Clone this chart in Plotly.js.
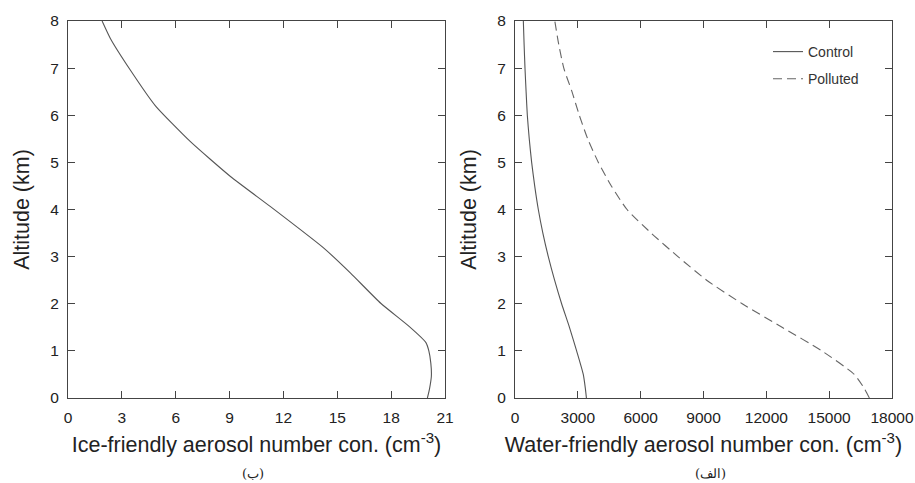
<!DOCTYPE html>
<html>
<head>
<meta charset="utf-8">
<script src="https://cdn.plot.ly/plotly-3.0.1.min.js"></script>
<style>html,body{margin:0;padding:0;background:#fff;}#chart{width:915px;height:483px;}</style>
</head>
<body>
<div id="chart"></div>
<script>
// Ice-friendly aerosol profile (left panel)
const iceAlt  = [0, 0.2, 0.46, 0.74, 1.0, 1.18, 1.52, 2.01, 2.65, 3.18, 4.06, 4.70, 5.44, 6.2, 6.96, 7.63, 8.0];
const iceConc = [20.02, 20.14, 20.24, 20.21, 20.1, 19.93, 19.0, 17.42, 15.74, 14.25, 11.28, 9.05, 6.82, 4.87, 3.47, 2.36, 1.9];

// Water-friendly aerosol profiles (right panel)
const waterAlt     = [0, 0.2, 0.5, 1.0, 1.5, 2.0, 2.5, 3.0, 3.5, 4.0, 4.5, 5.0, 5.5, 6.0, 6.5, 7.0, 7.5, 8.0];
const controlConc  = [3410, 3360, 3260, 2942, 2600, 2226, 1890, 1590, 1330, 1113, 940, 795, 680, 588, 530, 477, 435, 398];
const pollutedConc = [16920, 16680, 16200, 14650, 12750, 10850, 9150, 7780, 6500, 5350, 4600, 3980, 3470, 3070, 2720, 2330, 2090, 1900];

const seriesNames = ['Control', 'Polluted'];
const iceTicks = [0, 3, 6, 9, 12, 15, 18, 21];
const waterTicks = [0, 3000, 6000, 9000, 12000, 15000, 18000];
const altTicks = [0, 1, 2, 3, 4, 5, 6, 7, 8];
const xTitles = ['Ice-friendly aerosol number con. (cm<sup>-3</sup>)', 'Water-friendly aerosol number con. (cm<sup>-3</sup>)'];
const yTitle = 'Altitude (km)';
const panelLabels = ['(ب)', '(الف)'];

const font = 'Liberation Sans, Arial, Helvetica, sans-serif';

const traces = [
  {x: iceConc, y: iceAlt, xaxis: 'x', yaxis: 'y', mode: 'lines', showlegend: false,
   line: {color: '#555', width: 1.1, shape: 'spline', smoothing: 0.5}, hoverinfo: 'skip'},
  {x: controlConc, y: waterAlt, xaxis: 'x2', yaxis: 'y2', mode: 'lines', name: seriesNames[0], legendgroup: 'a',
   line: {color: '#555', width: 1.1, shape: 'spline', smoothing: 0.6}},
  {x: pollutedConc, y: waterAlt, xaxis: 'x2', yaxis: 'y2', mode: 'lines', name: seriesNames[1], legendgroup: 'b',
   line: {color: '#666', width: 1.1, dash: '9px,5px', shape: 'spline', smoothing: 0.6}}
];

function xax(domain, ticks, range, title) {
  return {
    domain: domain, range: range, tickvals: ticks, ticktext: ticks.map(String),
    ticks: 'inside', ticklen: 7, tickwidth: 1, tickcolor: '#444', mirror: 'ticks',
    showline: true, linecolor: '#444', linewidth: 1, showgrid: false, zeroline: false,
    tickfont: {family: font, size: 15.5, color: '#222'}, ticklabelstandoff: 5,
    title: {text: title, font: {family: font, size: 21.5, color: '#222'}, standoff: 12},
    automargin: false, fixedrange: true
  };
}
function yax(domain, anchor) {
  return {
    domain: domain, anchor: anchor, range: [0, 8], tickvals: altTicks,
    ticks: 'inside', ticklen: 7, tickwidth: 1, tickcolor: '#444', mirror: 'ticks',
    showline: true, linecolor: '#444', linewidth: 1, showgrid: false, zeroline: false,
    tickfont: {family: font, size: 15.5, color: '#222'}, ticklabelstandoff: 5,
    title: {text: yTitle, font: {family: font, size: 21.5, color: '#222'}, standoff: 14},
    automargin: false, fixedrange: true
  };
}

const yd = [85/483, 462/483];
const layout = {
  width: 915, height: 483,
  margin: {l: 0, r: 0, t: 0, b: 0},
  paper_bgcolor: '#fff', plot_bgcolor: '#fff',
  xaxis: Object.assign(xax([68/915, 445/915], iceTicks, [0, 21], xTitles[0]), {anchor: 'y'}),
  yaxis: yax(yd, 'x'),
  xaxis2: Object.assign(xax([515/915, 892/915], waterTicks, [0, 18000], xTitles[1]), {anchor: 'y2'}),
  yaxis2: yax(yd, 'x2'),
  showlegend: true,
  legend: {x: 768/915, y: 1 - 36/483, xanchor: 'left', yanchor: 'top', bgcolor: 'rgba(0,0,0,0)',
           font: {family: font, size: 14, color: '#333'}, tracegroupgap: 6},
  annotations: [
    {text: panelLabels[0], xref: 'paper', yref: 'paper', x: 253/915, y: 1 - 473/483, xanchor: 'center', yanchor: 'middle',
     showarrow: false, font: {family: 'DejaVu Serif, Liberation Serif, serif', size: 13, color: '#222'}},
    {text: panelLabels[1], xref: 'paper', yref: 'paper', x: 710/915, y: 1 - 473/483, xanchor: 'center', yanchor: 'middle',
     showarrow: false, font: {family: 'DejaVu Serif, Liberation Serif, serif', size: 13, color: '#222'}}
  ]
};

Plotly.newPlot('chart', traces, layout, {displayModeBar: false, staticPlot: true});
</script>
</body>
</html>
